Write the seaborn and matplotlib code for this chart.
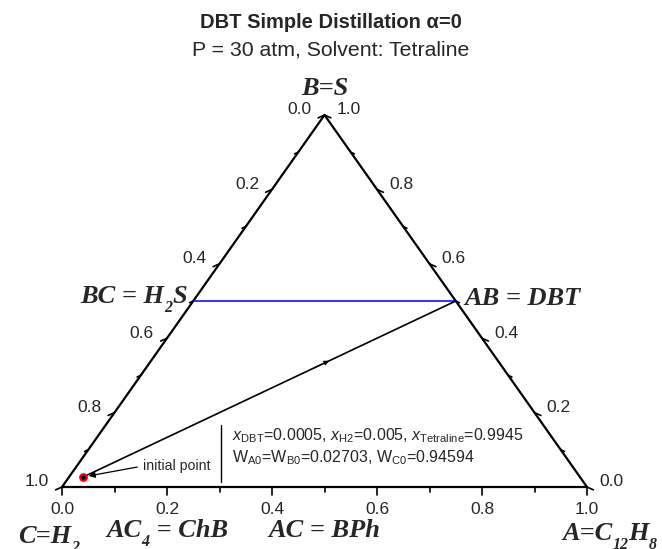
import numpy as np
import pandas as pd
import matplotlib
matplotlib.use("Agg")
import matplotlib.pyplot as plt
import seaborn as sns

sns.set_theme(style="white")
plt.rcParams["font.family"] = ["Liberation Sans", "DejaVu Sans"]
plt.rcParams["mathtext.fontset"] = "custom"
plt.rcParams["mathtext.rm"] = "Liberation Sans"
plt.rcParams["mathtext.it"] = "Liberation Sans:italic"
plt.rcParams["mathtext.sf"] = "Liberation Sans"

# Mass-fraction compositions (A, B, C)
initial_point = (0.02703, 0.02703, 0.94594)
ab_point = (0.5, 0.5, 0.0)      # AB = DBT
bc_point = (0.0, 0.5, 0.5)      # BC = H2S
tick_values = [0.0, 0.1, 0.2, 0.3, 0.4, 0.5, 0.6, 0.7, 0.8, 0.9, 1.0]
major_ticks = [0.0, 0.2, 0.4, 0.6, 0.8, 1.0]
feed_line1 = (r"$\mathit{x}_{\mathsf{DBT}}$=0.0005, $\mathit{x}_{\mathsf{H2}}$=0.005, "
              r"$\mathit{x}_{\mathsf{Tetraline}}$=0.9945")
feed_line2 = r"W$_{\mathsf{A0}}$=W$_{\mathsf{B0}}$=0.02703, W$_{\mathsf{C0}}$=0.94594"

# component labels as (text, is_subscript) pieces
label_B = [("B=S", False)]
label_BC = [("BC = H", False), ("2", True), ("S", False)]
label_AB = [("AB = DBT", False)]
label_C = [("C=H", False), ("2", True)]
label_A = [("A=C", False), ("12", True), ("H", False), ("8", True)]
label_AC4 = [("AC", False), ("4", True), (" = ChB", False)]
label_AC = [("AC = BPh", False)]


def tern(a, b, c):
    """Ternary (A, B, C) -> plane coordinates with C at origin, A at (1,0), B on top."""
    return a + b / 2.0, b


fig = plt.figure(figsize=(6.62, 5.49), dpi=100)
AX_W, AX_H = 525, 372            # axes size in pixels
ax = fig.add_axes([62 / 662, 62 / 549, AX_W / 662, AX_H / 549])
ax.set_xlim(0, 1)
ax.set_ylim(0, 1)
ax.axis("off")
sx, sy = 1.0 / AX_W, 1.0 / AX_H  # data units per pixel
renderer = fig.canvas.get_renderer()

# triangle frame
corners = pd.DataFrame({"x": [0.0, 1.0, 0.5, 0.0], "y": [0.0, 0.0, 1.0, 0.0]})
sns.lineplot(data=corners, x="x", y="y", sort=False, estimator=None,
             color="black", linewidth=1.6, ax=ax)

# tie line BC - AB
tie = pd.DataFrame([tern(*bc_point), tern(*ab_point)], columns=["x", "y"])
sns.lineplot(data=tie, x="x", y="y", sort=False, estimator=None,
             color="#1010ff", linewidth=1.2, ax=ax)

# distillation path from the initial point to AB
path = pd.DataFrame([tern(*initial_point), tern(*ab_point)], columns=["x", "y"])
sns.lineplot(data=path, x="x", y="y", sort=False, estimator=None,
             color="black", linewidth=1.2, ax=ax)

# direction arrow along the path
p0 = np.array(tern(*initial_point))
p1 = np.array(tern(*ab_point))
ax.annotate("", xy=p0 + 0.66 * (p1 - p0), xytext=p0 + 0.62 * (p1 - p0),
            arrowprops=dict(arrowstyle="-|>", color="black", lw=0.8,
                            mutation_scale=7, shrinkA=0, shrinkB=0))

# initial point marker
x0, y0 = tern(*initial_point)
sns.scatterplot(x=[x0], y=[y0], s=22, color="black", edgecolor="red",
                linewidth=1.6, ax=ax, zorder=5)

for ln in ax.lines:
    ln.set_clip_on(False)
for coll in ax.collections:
    coll.set_clip_on(False)

# ticks and tick labels
dl = np.array([-1.0, -0.45]); dl /= np.linalg.norm(dl)
dr = np.array([1.0, -0.45]); dr /= np.linalg.norm(dr)
for t in tick_values:
    major = t in major_ticks
    L = 7 if major else 4
    # bottom axis: fraction of A
    bx, by = tern(t, 0, 1 - t)
    ax.plot([bx, bx], [by, by - (L + 1) * sy], color="black", lw=1.2, clip_on=False)
    # left axis: fraction of C
    lx, ly = tern(0, 1 - t, t)
    ax.plot([lx, lx + L * dl[0] * sx], [ly, ly + L * dl[1] * sy],
            color="black", lw=1.2, clip_on=False)
    # right axis: fraction of B
    rx, ry = tern(1 - t, t, 0)
    ax.plot([rx, rx + L * dr[0] * sx], [ry, ry + L * dr[1] * sy],
            color="black", lw=1.2, clip_on=False)
    if major:
        lab = f"{t:.1f}"
        ax.annotate(lab, xy=(bx, by), xytext=(0, -22), textcoords="offset pixels",
                    ha="center", va="center", fontsize=12.5)
        ax.annotate(lab, xy=(lx, ly), xytext=(-13, 5), textcoords="offset pixels",
                    ha="right", va="center", fontsize=12.5)
        ax.annotate(lab, xy=(rx, ry), xytext=(12, 5), textcoords="offset pixels",
                    ha="left", va="center", fontsize=12.5)

# component labels: bold italic serif with small, dropped subscripts
LAB_SIZE, SUB_SIZE, SUB_DROP = 19, 11.5, 9


def vlabel(pieces, xy, off, ha):
    style = dict(fontfamily="Liberation Serif", fontweight="bold", fontstyle="italic")
    widths = []
    for txt, sub in pieces:
        probe = fig.text(0, 0, txt, fontsize=SUB_SIZE if sub else LAB_SIZE, **style)
        widths.append(probe.get_window_extent(renderer).width)
        probe.remove()
    total = sum(widths)
    start = {"left": 0.0, "center": -total / 2, "right": -total}[ha] + off[0]
    for (txt, sub), w in zip(pieces, widths):
        ax.annotate(txt, xy=xy, xytext=(start, off[1] - (SUB_DROP if sub else 0)),
                    textcoords="offset pixels", ha="left", va="baseline",
                    fontsize=SUB_SIZE if sub else LAB_SIZE, annotation_clip=False, **style)
        start += w


vlabel(label_B, tern(0, 1, 0), (0, 20), "center")
vlabel(label_BC, tern(*bc_point), (-6, -2), "right")
vlabel(label_AB, tern(*ab_point), (9, -4), "left")
vlabel(label_C, tern(0, 0, 1), (-44, -56), "left")
vlabel(label_A, tern(1, 0, 0), (-25, -53), "left")
vlabel(label_AC4, tern(0.2, 0, 0.8), (0, -50), "center")
vlabel(label_AC, tern(0.5, 0, 0.5), (0, -50), "center")

# initial point callout
ax.annotate("initial point", xy=(x0, y0), xytext=(60, 11), textcoords="offset pixels",
            ha="left", va="center", fontsize=10.2,
            arrowprops=dict(arrowstyle="-|>", color="black", lw=0.9,
                            mutation_scale=9, shrinkA=2, shrinkB=4, relpos=(0, 0.5)))

# feed composition note
ax.plot([0.303, 0.303], [0.013, 0.167], color="black", lw=1.0, clip_on=False)
ax.text(0.324, 0.126, feed_line1, ha="left", va="baseline", fontsize=11.5)
ax.text(0.324, 0.067, feed_line2, ha="left", va="baseline", fontsize=11.5)

# titles
fig.text(0.5, 1 - 28 / 549, "DBT Simple Distillation α=0", ha="center", va="baseline",
         fontsize=14.5, fontweight="bold")
fig.text(0.5, 1 - 55 / 549, "P = 30 atm, Solvent: Tetraline", ha="center", va="baseline",
         fontsize=15.3)

fig.savefig("out.png", dpi=100, facecolor="white")
